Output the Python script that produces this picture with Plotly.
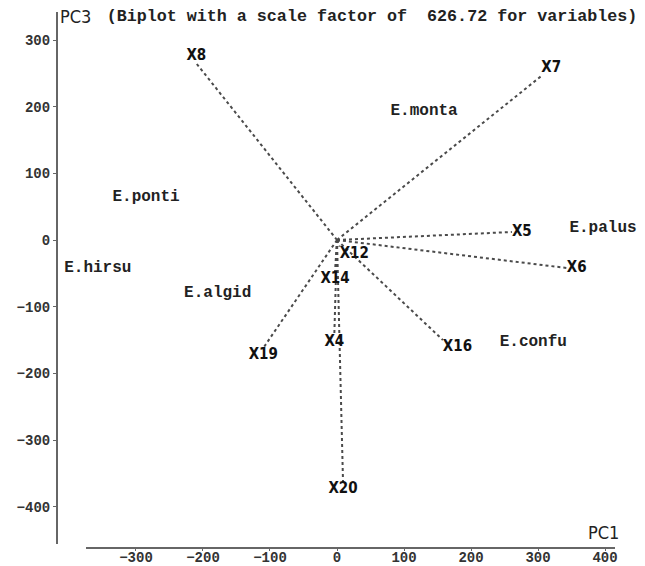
import plotly.graph_objects as go

# ---- data ----
var_names = ["X5", "X6", "X7", "X8", "X12", "X14", "X4", "X16", "X19", "X20"]
var_pc1 = [261, 343, 305, -210, 4, -3, -4, 158, -110, 9]
var_pc3 = [12, -42, 246, 265, -10, -48, -142, -150, -162, -363]
var_textpos = ["middle right", "middle right", "top right", "top center", "bottom right",
               "bottom center", "bottom center", "bottom right", "bottom center", "bottom center"]

obs_names = ["E.monta", "E.ponti", "E.hirsu", "E.algid", "E.palus", "E.confu"]
obs_pc1 = [130, -285, -357, -178, 397, 293]
obs_pc3 = [193, 64, -42, -80, 18, -153]

x_ticks = [-300, -200, -100, 0, 100, 200, 300, 400]
y_ticks = [-400, -300, -200, -100, 0, 100, 200, 300]

title_text = "(Biplot with a scale factor of  626.72 for variables)"

W, H = 645, 566
MONO = "Liberation Mono, Courier New, DejaVu Sans Mono, monospace"
NARROW = "Liberation Sans Narrow, Arial Narrow, DejaVu Sans Condensed, Liberation Sans, sans-serif"

fig = go.Figure()

# dotted vectors from the origin
lx, ly = [], []
for px, py in zip(var_pc1, var_pc3):
    lx += [0, px, None]
    ly += [0, py, None]
fig.add_trace(go.Scatter(x=lx, y=ly, mode="lines",
                         line=dict(color="#4a4a4a", width=2, dash="dot"),
                         hoverinfo="skip", showlegend=False))

# variable labels
fig.add_trace(go.Scatter(x=var_pc1, y=var_pc3, mode="text", text=var_names,
                         textposition=var_textpos,
                         textfont=dict(family=NARROW, size=15, color="#111111", weight="bold"),
                         showlegend=False, cliponaxis=False))

# observation labels
fig.add_trace(go.Scatter(x=obs_pc1, y=obs_pc3, mode="text", text=obs_names,
                         textposition="middle center",
                         textfont=dict(family=MONO, size=16, color="#222222", weight="bold"),
                         showlegend=False, cliponaxis=False))

fig.update_layout(
    width=W, height=H, autosize=False,
    margin=dict(l=0, r=0, t=0, b=0, autoexpand=False),
    paper_bgcolor="white", plot_bgcolor="white",
    title=dict(text=title_text, x=372 / W, xanchor="center", y=1 - 15 / H, yanchor="middle",
               font=dict(family=MONO, size=16.7, color="#222222", weight="bold")),
    xaxis=dict(domain=[86 / W, 615 / W], range=[-374.6, 414.9], anchor="free",
               position=1 - 548 / H, tickvals=x_ticks, ticks="outside", ticklen=2,
               tickcolor="#666666", showline=True, linecolor="#666666", linewidth=2,
               showgrid=False, zeroline=False, ticklabelstandoff=-6,
               tickfont=dict(family=MONO, size=14, color="#333333", weight="bold")),
    yaxis=dict(domain=[1 - 544 / H, 1 - 12 / H], range=[-456, 342], anchor="free",
               position=57 / W, tickvals=y_ticks, ticks="outside", ticklen=3,
               tickcolor="#666666", showline=True, linecolor="#666666", linewidth=2,
               showgrid=False, zeroline=False,
               tickfont=dict(family=MONO, size=14, color="#333333", weight="bold")),
    annotations=[
        dict(text="PC3", x=75 / W, y=1 - 17 / H, xref="paper", yref="paper",
             xanchor="center", yanchor="middle",
             showarrow=False, font=dict(family=NARROW, size=18, color="#222222")),
        dict(text="PC1", x=603 / W, y=1 - 532 / H, xref="paper", yref="paper",
             xanchor="center", yanchor="middle",
             showarrow=False, font=dict(family=NARROW, size=18, color="#222222")),
    ],
)

fig.write_html(
    "out.html",
    config={"displayModeBar": False},
    post_script="document.body.style.margin='0';document.body.style.padding='0';",
)
